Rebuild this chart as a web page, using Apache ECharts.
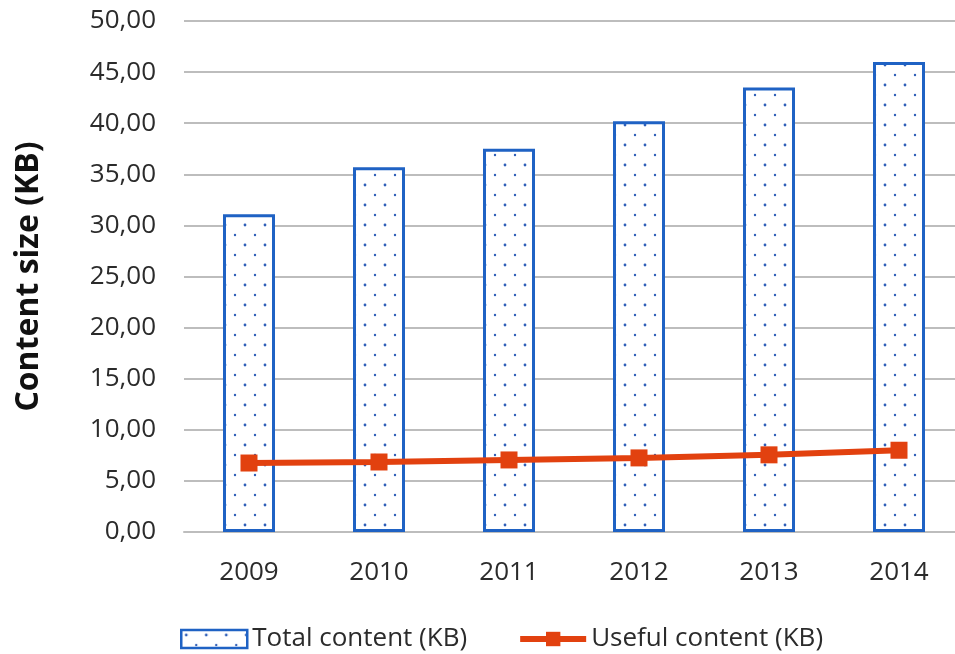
<!DOCTYPE html>
<html>
<head>
<meta charset="utf-8">
<script src="https://cdn.jsdelivr.net/npm/echarts@6/dist/echarts.min.js"></script>
<style>
  html, body { margin: 0; padding: 0; background: #fff; }
  #chart { width: 955px; height: 654px; }
</style>
</head>
<body>
<div id="chart"></div>
<script>
// Content size per year
const years = ['2009', '2010', '2011', '2012', '2013', '2014'];
const totalContent = [31.1, 35.7, 37.5, 40.2, 43.5, 46.0];
const usefulContent = [6.75, 6.85, 7.05, 7.25, 7.55, 8.0];
const yTicks = { min: 0, max: 50, interval: 5 };

// Dotted fill for the bars: staggered blue dots on white
function dotPattern() {
  const c = document.createElement('canvas');
  c.width = 20; c.height = 20;
  const ctx = c.getContext('2d');
  ctx.fillStyle = '#ffffff';
  ctx.fillRect(0, 0, 20, 20);
  ctx.fillStyle = '#2f5fb8';
  [[5, 5, 1.4], [15, 15, 1.2]].forEach(([x, y, r]) => {
    ctx.beginPath(); ctx.arc(x, y, r, 0, Math.PI * 2); ctx.fill();
  });
  return c;
}
const pattern = { image: dotPattern(), repeat: 'repeat' };

const BLUE = '#1f62c4';
const ORANGE = '#e2410f';
const FONT = '"Open Sans", "Noto Sans", sans-serif';

const chart = echarts.init(document.getElementById('chart'));
chart.setOption({
  animation: false,
  backgroundColor: '#ffffff',
  textStyle: { fontFamily: FONT },
  grid: { left: 184, width: 780, top: 21, bottom: 122, containLabel: false, outerBoundsMode: 'none' },
  legend: {
    top: 621,
    left: 175,
    itemGap: 50,
    itemWidth: 66,
    itemHeight: 18,
    textStyle: { fontSize: 26, color: '#2b2b2b', fontFamily: FONT },
    data: [
      { name: 'Total content (KB)', icon: 'rect', itemStyle: { color: pattern, borderColor: BLUE, borderWidth: 2.5 } },
      { name: 'Useful content (KB)', lineStyle: { width: 6, color: ORANGE }, itemStyle: { color: ORANGE } }
    ]
  },
  xAxis: {
    type: 'category',
    data: years,
    axisLine: { show: true, lineStyle: { color: '#bdbdbd', width: 2 } },
    axisTick: { show: false },
    axisLabel: { fontSize: 26, color: '#2b2b2b', margin: 28, fontFamily: FONT }
  },
  yAxis: {
    type: 'value',
    min: yTicks.min,
    max: yTicks.max,
    interval: yTicks.interval,
    name: 'Content size (KB)',
    nameLocation: 'middle',
    nameGap: 139,
    nameTextStyle: { fontSize: 32, fontWeight: 'bold', color: '#111111', fontFamily: FONT },
    axisLine: { show: false },
    axisTick: { show: false },
    splitLine: { lineStyle: { color: '#bdbdbd', width: 2 } },
    axisLabel: {
      fontSize: 26, color: '#2b2b2b', margin: 28, fontFamily: FONT,
      formatter: v => v.toFixed(2).replace('.', ',')
    }
  },
  series: [
    {
      name: 'Total content (KB)',
      type: 'bar',
      data: totalContent,
      barWidth: 52,
      itemStyle: { color: pattern, borderColor: BLUE, borderWidth: 3 }
    },
    {
      name: 'Useful content (KB)',
      type: 'line',
      data: usefulContent,
      symbol: 'rect',
      symbolSize: 17,
      lineStyle: { color: ORANGE, width: 6 },
      itemStyle: { color: ORANGE }
    }
  ]
});
</script>
</body>
</html>
